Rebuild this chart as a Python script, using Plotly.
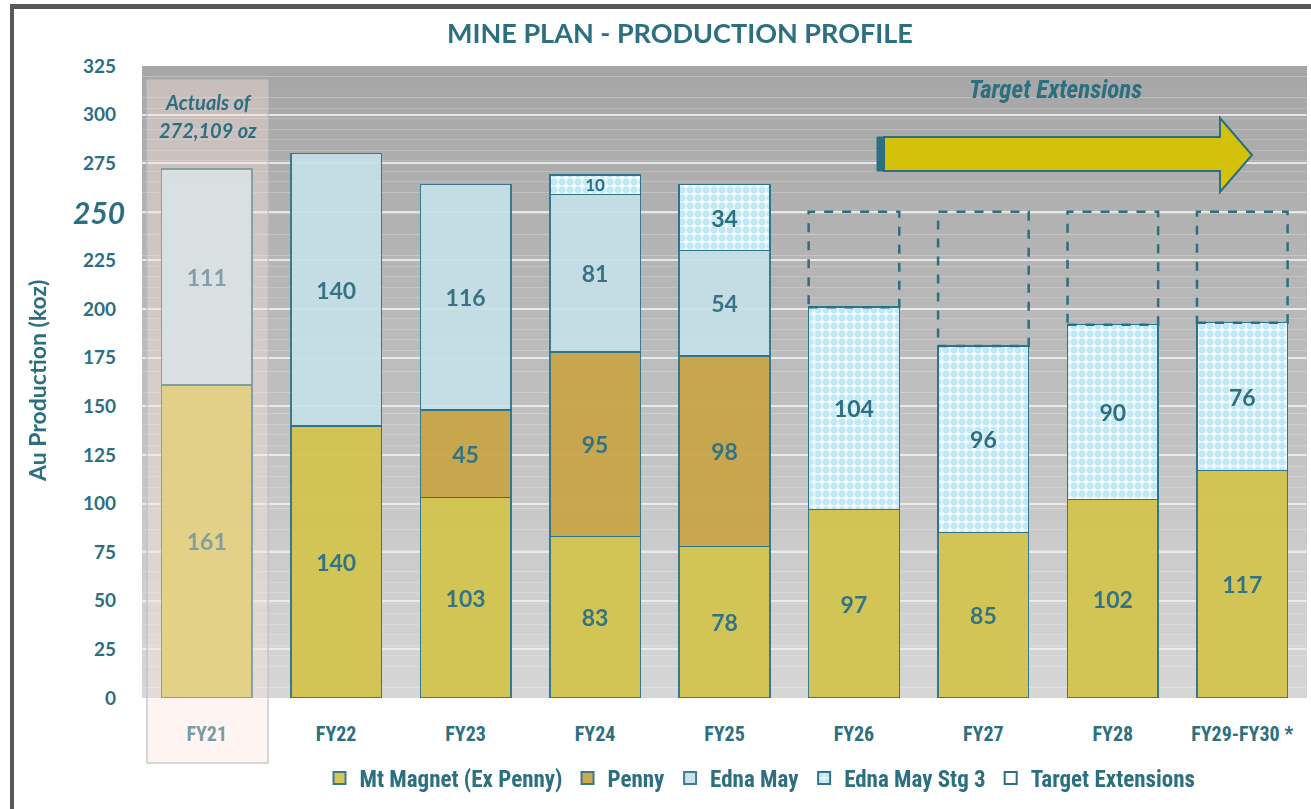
import plotly.graph_objects as go

# ---------------- data ----------------
categories = ["FY21", "FY22", "FY23", "FY24", "FY25", "FY26", "FY27", "FY28", "FY29-FY30 *"]
mt_magnet = [161, 140, 103, 83, 78, 97, 85, 102, 117]
penny = [None, None, 45, 95, 98, None, None, None, None]
edna_may = [111, 140, 116, 81, 54, None, None, None, None]
edna_stg3 = [None, None, None, 10, 34, 104, 96, 90, 76]
target_ext = [None, None, None, None, None, 49, 69, 58, 57]
y_ticks = [0, 25, 50, 75, 100, 125, 150, 175, 200, 225, 250, 275, 300, 325]

# ---------------- style ----------------
W, H = 1311, 809
ML, MR, MT, MB = 142, 4, 66, 111
PW, PH = W - ML - MR, H - MT - MB
TEAL = "#2b6f80"
BAR_LINE = "#2f7488"
FONT_MAIN = "Lato, Open Sans, sans-serif"
FONT_NARROW = "Liberation Sans Narrow, Roboto Condensed, Roboto, sans-serif"
BAR_W = 0.70


def px_x(px):
    return (px - ML) / PW


def px_y(py):
    return (H - MB - py) / PH


def lbl(vals):
    return ["" if v is None else str(v) for v in vals]


fig = go.Figure()

label_font = dict(family=FONT_MAIN, size=23, color=TEAL, weight="bold")
common = dict(textposition="inside", insidetextanchor="middle", textangle=0,
              constraintext="none")

fig.add_trace(go.Bar(
    name="Mt Magnet (Ex Penny)", x=categories, y=mt_magnet,
    marker=dict(color="#d3c54f", line=dict(color=BAR_LINE, width=1.5)),
    text=lbl(mt_magnet), textfont=label_font, opacity=0.95, **common))
fig.add_trace(go.Bar(
    name="Penny", x=categories, y=penny,
    marker=dict(color="#c8a547", line=dict(color=BAR_LINE, width=1.5)),
    text=lbl(penny), textfont=label_font, opacity=0.95, **common))
fig.add_trace(go.Bar(
    name="Edna May", x=categories, y=edna_may,
    marker=dict(color="#c6e1ea", line=dict(color=BAR_LINE, width=1.5)),
    text=lbl(edna_may), textfont=label_font, opacity=0.92, **common))
stg3_sizes = [17 if (v is not None and v < 20) else 23 for v in edna_stg3]
fig.add_trace(go.Bar(
    name="Edna May Stg 3", x=categories, y=edna_stg3,
    marker=dict(color="#ffffff", line=dict(color=BAR_LINE, width=1.5),
                pattern=dict(shape=".", fgcolor="#bfe8f9", bgcolor="#f4fbfe",
                             size=8, solidity=0.6, fillmode="replace")),
    text=lbl(edna_stg3),
    textfont=dict(family=FONT_MAIN, size=stg3_sizes, color=TEAL, weight="bold"),
    **common))
fig.add_trace(go.Bar(
    name="Target Extensions", x=categories, y=target_ext,
    marker=dict(color="rgba(0,0,0,0)", line=dict(width=0)),
    showlegend=False, hoverinfo="skip"))
fig.add_trace(go.Scatter(
    name="Target Extensions", x=[None], y=[None], mode="markers",
    marker=dict(symbol="square-open", size=11, color=TEAL, line=dict(width=2, color=TEAL)),
    showlegend=True))

shapes = []
# gradient background of plot area
n_strips = 60
top_c = (166, 166, 166)
bot_c = (214, 214, 214)
for i in range(n_strips):
    t = i / (n_strips - 1)
    c = tuple(int(round(top_c[k] + (bot_c[k] - top_c[k]) * t)) for k in range(3))
    shapes.append(dict(type="rect", xref="paper", yref="paper",
                       x0=0, x1=1, y0=1 - (i + 1) / n_strips, y1=1 - i / n_strips,
                       fillcolor="rgb(%d,%d,%d)" % c, line=dict(width=0), layer="below"))

# dashed target-extension outlines
for i, ext in enumerate(target_ext):
    if ext is None:
        continue
    base = sum(v for v in (mt_magnet[i], penny[i], edna_may[i], edna_stg3[i]) if v is not None)
    shapes.append(dict(type="rect", xref="x", yref="y",
                       x0=i - BAR_W / 2, x1=i + BAR_W / 2, y0=base, y1=base + ext,
                       line=dict(color=TEAL, width=2.5, dash="dash"),
                       fillcolor="rgba(0,0,0,0)", layer="above"))

# FY21 "actuals" highlight
shapes.append(dict(type="rect", xref="paper", yref="paper",
                   x0=px_x(147), x1=px_x(268), y0=px_y(763), y1=px_y(80),
                   fillcolor="rgba(252,228,222,0.38)",
                   line=dict(color="rgba(190,190,190,0.8)", width=1.5), layer="above"))


# arrow
def P(px, py):
    return "%.5f,%.5f" % (px_x(px), px_y(py))


arrow_path = ("M " + P(884, 137) + " L " + P(1220, 137) + " L " + P(1220, 118) +
              " L " + P(1252, 155) + " L " + P(1220, 192) + " L " + P(1220, 171) +
              " L " + P(884, 171) + " Z")
shapes.append(dict(type="path", xref="paper", yref="paper", path=arrow_path,
                   fillcolor="#d4c10a", line=dict(color=TEAL, width=2), layer="above"))
shapes.append(dict(type="rect", xref="paper", yref="paper",
                   x0=px_x(877), x1=px_x(884), y0=px_y(171), y1=px_y(137),
                   fillcolor=TEAL, line=dict(color=TEAL, width=1), layer="above"))

# outer frame
shapes.append(dict(type="rect", xref="paper", yref="paper",
                   x0=px_x(10), x1=px_x(W + 5), y0=px_y(9), y1=px_y(4),
                   fillcolor="#595959", line=dict(width=0), layer="above"))
shapes.append(dict(type="rect", xref="paper", yref="paper",
                   x0=px_x(10), x1=px_x(14), y0=px_y(H + 5), y1=px_y(4),
                   fillcolor="#595959", line=dict(width=0), layer="above"))


def ann(text, px, py, size, family=FONT_MAIN, **kw):
    d = dict(text=text, xref="paper", yref="paper", x=px_x(px), y=px_y(py),
             xanchor="center", yanchor="middle", showarrow=False,
             font=dict(family=family, size=size, color=TEAL))
    d.update(kw)
    return d


annotations = [
    ann("<b>MINE PLAN - PRODUCTION PROFILE</b>", 680, 33, 27),
    ann("<b><i>Target Extensions</i></b>", 1055, 90, 25, family=FONT_NARROW),
    ann("<b><i>Actuals of</i></b>", 208, 102, 20),
    ann("<b><i>272,109 oz</i></b>", 208, 130, 20),
    ann("<b>Au Production (koz)</b>", 37, 381, 23, textangle=-90),
    dict(text="<b><i>250</i></b>", xref="paper", yref="y",
         x=px_x(127), y=250, xanchor="right", yanchor="middle", showarrow=False,
         font=dict(family=FONT_MAIN, size=30, color=TEAL)),
]

fig.update_layout(
    width=W, height=H, autosize=False,
    margin=dict(l=ML, r=MR, t=MT, b=MB),
    paper_bgcolor="white", plot_bgcolor="rgba(0,0,0,0)",
    barmode="stack", bargap=1 - BAR_W,
    shapes=shapes, annotations=annotations,
    showlegend=True,
    legend=dict(orientation="h", x=px_x(760), xanchor="center",
                y=px_y(778), yanchor="middle",
                font=dict(family=FONT_NARROW, size=23, color=TEAL, weight="bold"),
                bgcolor="rgba(0,0,0,0)", itemsizing="constant",
                traceorder="normal", itemwidth=30),
    font=dict(family=FONT_MAIN, color=TEAL),
)

fig.update_xaxes(
    type="category", range=[-0.5, len(categories) - 0.5],
    tickvals=categories, ticktext=["<b>%s</b>" % c for c in categories],
    tickfont=dict(family=FONT_NARROW, size=20, color=TEAL),
    showgrid=False, zeroline=False, showline=False, ticks="",
    ticklabelstandoff=22)

fig.update_yaxes(
    range=[0, 325], tickvals=y_ticks,
    ticktext=["" if v == 250 else "<b>%d</b>" % v for v in y_ticks],
    tickfont=dict(family=FONT_MAIN, size=19, color=TEAL),
    showgrid=True, gridcolor="rgba(240,240,240,0.85)", gridwidth=1.5,
    zeroline=False, showline=False, ticks="", ticklabelstandoff=25)

fig.write_html("out.html", config={"displayModeBar": False},
               post_script="document.body.style.margin='0';")
